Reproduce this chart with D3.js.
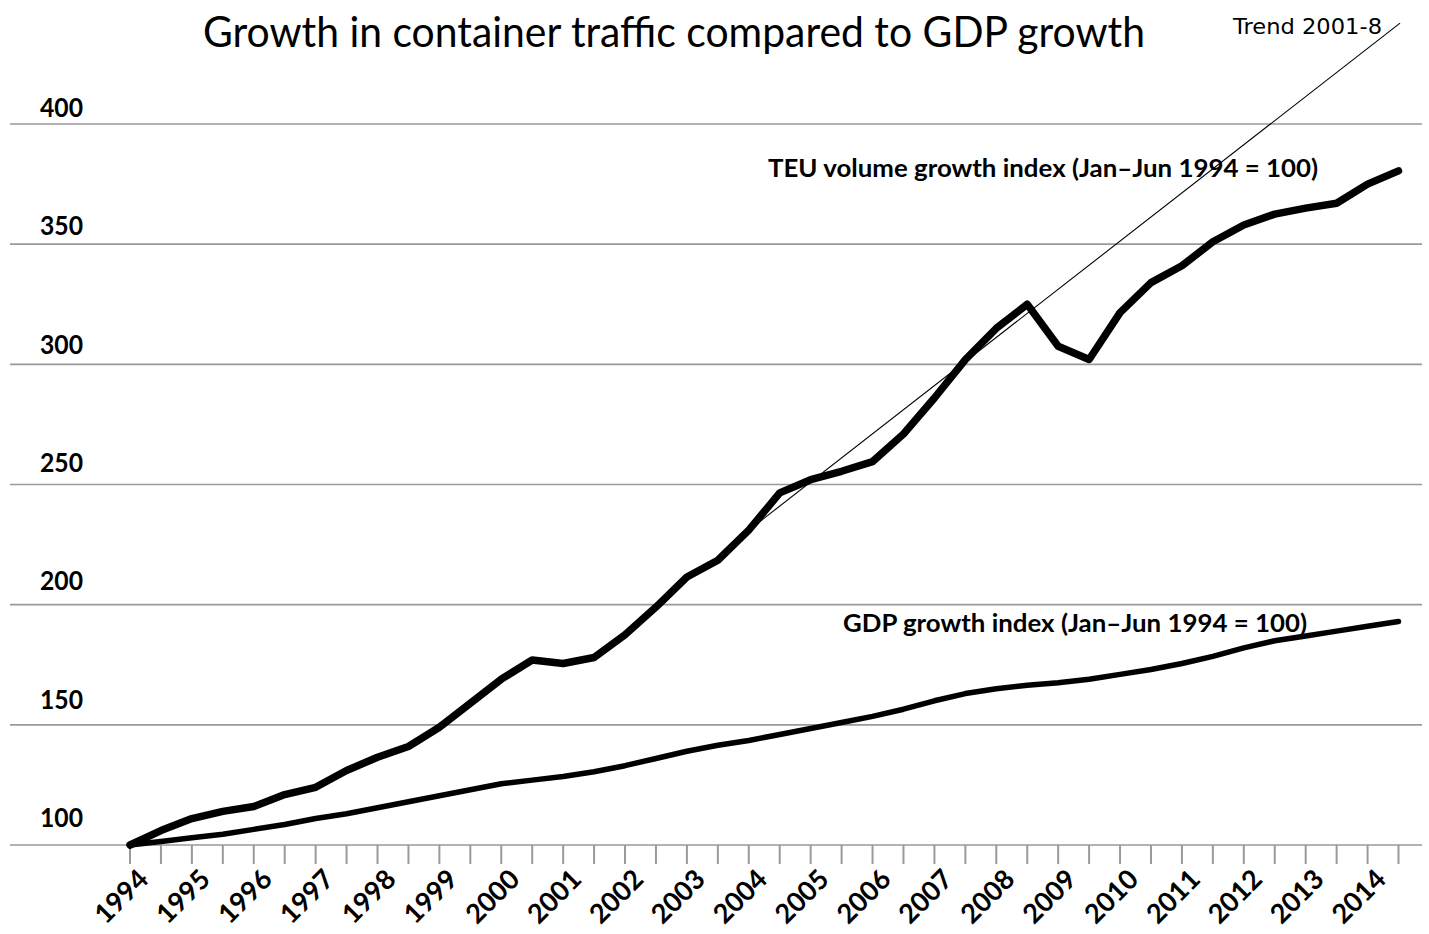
<!DOCTYPE html>
<html><head><meta charset="utf-8">
<script src="https://cdn.jsdelivr.net/npm/d3@7"></script>
<style>
html,body{margin:0;padding:0;background:#fff;}
svg{display:block;}
text{font-family:Lato,"Open Sans","DejaVu Sans",sans-serif;fill:#000;}
</style></head><body>
<svg id="chart" width="1429" height="934"></svg>
<script>
// Half-year periods (decimal years: H1 = .0, H2 = .5)
const periods = [1994,1994.5,1995,1995.5,1996,1996.5,1997,1997.5,1998,1998.5,
  1999,1999.5,2000,2000.5,2001,2001.5,2002,2002.5,2003,2003.5,2004,2004.5,
  2005,2005.5,2006,2006.5,2007,2007.5,2008,2008.5,2009,2009.5,2010,2010.5,
  2011,2011.5,2012,2012.5,2013,2013.5,2014,2014.5];
const yearLabels = ["1994","1995","1996","1997","1998","1999","2000","2001","2002","2003",
  "2004","2005","2006","2007","2008","2009","2010","2011","2012","2013","2014"];
const teuValues = [100,106,111,114,116,121,124,131,136.5,141,149,159,169,177,175.5,178,
  187.5,199,211.5,218.5,231,246.5,252,255.5,259.5,271,286,302,315,325,307.5,302,
  321.5,334,341,351,358,362.5,365,367,375,380.5];
const gdpValues = [100,101.5,103,104.5,106.5,108.5,111,113,115.5,118,120.5,123,125.5,127,
  128.5,130.5,133,136,139,141.5,143.5,146,148.5,151,153.5,156.5,160,163,165,166.5,
  167.5,169,171,173,175.5,178.5,182,185,187,189,191,193];
const yTicks = [100,150,200,250,300,350,400];
const trendYears = [2004.15, 2014.525];
const trendValues = [234, 442];

const svg = d3.select("#chart");
const x = d3.scaleLinear().domain([1994, 2014.5]).range([130, 1398.5]);
const y = d3.scaleLinear().domain([100, 400]).range([845, 124]);
const yLab = d3.scaleLinear().domain([100, 400]).range([817, 107]);

// gridlines
svg.append("g").selectAll("line").data(yTicks).join("line")
  .attr("x1", 10).attr("x2", 1422)
  .attr("y1", d => y(d)).attr("y2", d => y(d))
  .attr("stroke", "#9a9a9a").attr("stroke-width", 1.6);

// y labels
svg.append("g").selectAll("text").data(yTicks).join("text")
  .attr("x", 40).attr("y", d => yLab(d))
  .attr("dominant-baseline", "central")
  .attr("font-size", 26).attr("font-weight", "bold")
  .attr("textLength", 43).attr("lengthAdjust", "spacingAndGlyphs")
  .text(d => d);

// x axis ticks
svg.append("g").selectAll("line").data(periods).join("line")
  .attr("x1", d => x(d)).attr("x2", d => x(d))
  .attr("y1", 845).attr("y2", 864)
  .attr("stroke", "#9a9a9a").attr("stroke-width", 2);

// x labels
svg.append("g").selectAll("text").data(yearLabels).join("text")
  .attr("transform", d => `translate(${x(+d) + 20},881) rotate(-45)`)
  .attr("text-anchor", "end")
  .attr("font-size", 27).attr("font-weight", "bold")
  .text(d => d);

// trend line
svg.append("line")
  .attr("x1", x(trendYears[0])).attr("y1", y(trendValues[0]))
  .attr("x2", x(trendYears[1])).attr("y2", y(trendValues[1]))
  .attr("stroke", "#000").attr("stroke-width", 1.1);

const line = d3.line().x((d, i) => x(periods[i])).y(d => y(d));

svg.append("path").datum(gdpValues)
  .attr("d", line).attr("fill", "none").attr("stroke", "#000")
  .attr("stroke-width", 5.5).attr("stroke-linejoin", "round").attr("stroke-linecap", "round");

svg.append("path").datum(teuValues)
  .attr("d", line).attr("fill", "none").attr("stroke", "#000")
  .attr("stroke-width", 7.5).attr("stroke-linejoin", "round").attr("stroke-linecap", "round");

// series labels
svg.append("text").attr("x", 768).attr("y", 177)
  .attr("font-size", 25).attr("font-weight", "bold")
  .attr("textLength", 550).attr("lengthAdjust", "spacingAndGlyphs")
  .text("TEU volume growth index (Jan\u2013Jun 1994 = 100)");
svg.append("text").attr("x", 843).attr("y", 632)
  .attr("font-size", 25).attr("font-weight", "bold")
  .attr("textLength", 464).attr("lengthAdjust", "spacingAndGlyphs")
  .text("GDP growth index (Jan\u2013Jun 1994 = 100)");

// title
svg.append("text").attr("x", 203).attr("y", 47)
  .attr("font-size", 42).attr("font-weight", "normal")
  .attr("textLength", 942).attr("lengthAdjust", "spacingAndGlyphs")
  .text("Growth in container traffic compared to GDP growth");

// trend label
svg.append("text").attr("x", 1233).attr("y", 34)
  .style("font-family", "'DejaVu Sans'")
  .attr("font-size", 21)
  .attr("textLength", 149).attr("lengthAdjust", "spacingAndGlyphs")
  .text("Trend 2001-8");
</script>
</body></html>
